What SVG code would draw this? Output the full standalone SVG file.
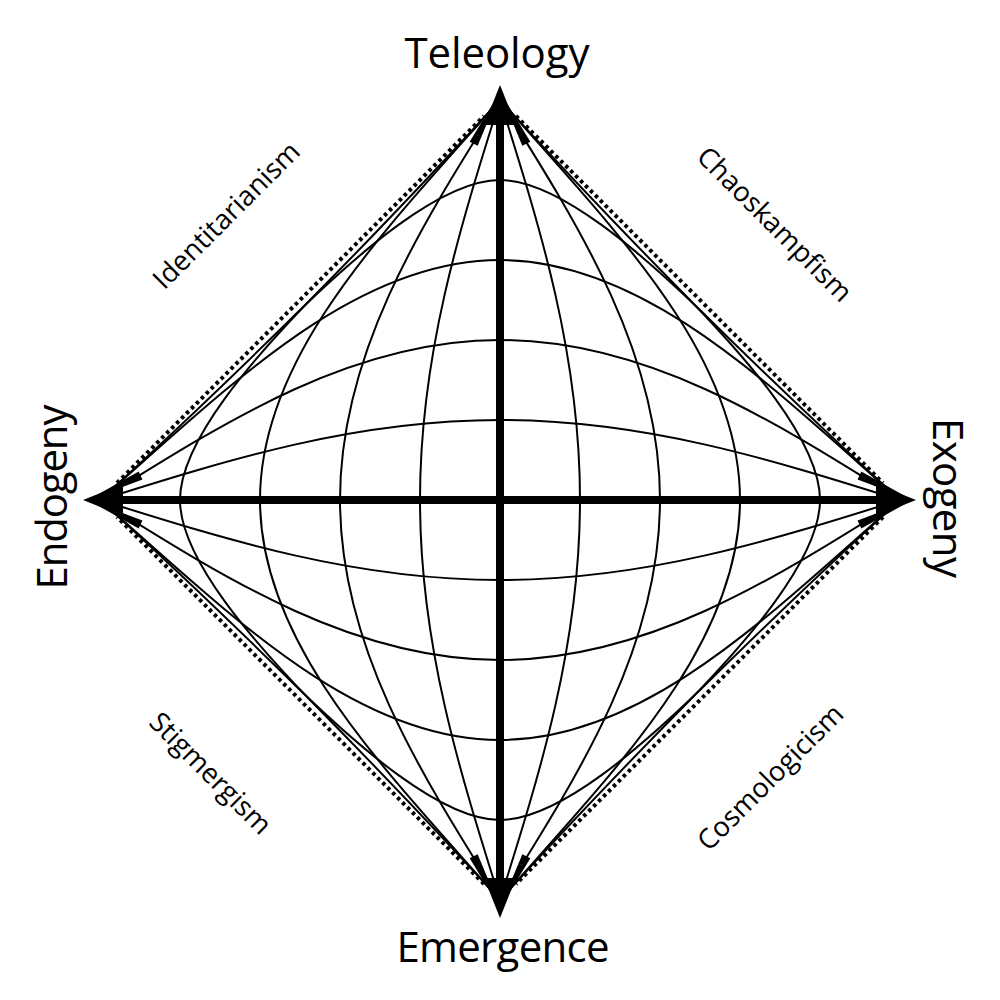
<svg xmlns="http://www.w3.org/2000/svg" width="1000" height="1000" viewBox="0 0 1000 1000">
<style>
.grid{fill:none;stroke:#000;stroke-width:2}
.dot{fill:none;stroke:#000;stroke-width:4;stroke-dasharray:3.5 3.5}
.axis{fill:none;stroke:#000;stroke-width:8}
.head{fill:#000}
.big{font-family:"Open Sans","Liberation Sans",sans-serif;font-size:42px;fill:#000}
.small{font-family:"Open Sans","Liberation Sans",sans-serif;font-size:27.5px;fill:#000}
</style>
<defs>
<path id="mk" d="M0,0 L-58,-4.5 L-58,4.5 Z" fill="#000"/>
</defs>
<rect width="1000" height="1000" fill="#fff"/>
<g id="connectors">
<g id="dotted-edges">
<line class="dot" x1="117" y1="483" x2="484" y2="116"/>
<line class="dot" x1="516" y1="116" x2="883" y2="483"/>
<line class="dot" x1="883" y1="517" x2="516" y2="884"/>
<line class="dot" x1="484" y1="884" x2="117" y2="517"/>
</g>
<g id="meridians">
<path class="grid" d="M500,100 C541,230.5 580,355.2 580,500 C580,644.8 541,769.5 500,900"/>
<path class="grid" d="M500,100 C582,230.5 660,355.2 660,500 C660,644.8 582,769.5 500,900"/>
<path class="grid" d="M500,100 C615,230.5 740,355.2 740,500 C740,644.8 615,769.5 500,900"/>
<path class="grid" d="M500,100 C560,166 625,234 690,300 C743,355 820,440 820,500 C820,560 743,645 690,700 C625,766 560,834 500,900"/>
<path class="grid" d="M500,100 C459,230.5 420,355.2 420,500 C420,644.8 459,769.5 500,900"/>
<path class="grid" d="M500,100 C418,230.5 340,355.2 340,500 C340,644.8 418,769.5 500,900"/>
<path class="grid" d="M500,100 C385,230.5 260,355.2 260,500 C260,644.8 385,769.5 500,900"/>
<path class="grid" d="M500,100 C440,166 375,234 310,300 C257,355 180,440 180,500 C180,560 257,645 310,700 C375,766 440,834 500,900"/>
</g>
<g id="parallels">
<path class="grid" d="M100,500 C230.5,459 355.2,420 500,420 C644.8,420 769.5,459 900,500"/>
<path class="grid" d="M100,500 C230.5,418 355.2,340 500,340 C644.8,340 769.5,418 900,500"/>
<path class="grid" d="M100,500 C230.5,385 355.2,260 500,260 C644.8,260 769.5,385 900,500"/>
<path class="grid" d="M100,500 C166,440 234,375 300,310 C355,257 440,180 500,180 C560,180 645,257 700,310 C766,375 834,440 900,500"/>
<path class="grid" d="M100,500 C230.5,541 355.2,580 500,580 C644.8,580 769.5,541 900,500"/>
<path class="grid" d="M100,500 C230.5,582 355.2,660 500,660 C644.8,660 769.5,582 900,500"/>
<path class="grid" d="M100,500 C230.5,615 355.2,740 500,740 C644.8,740 769.5,615 900,500"/>
<path class="grid" d="M100,500 C166,560 234,625 300,690 C355,743 440,820 500,820 C560,820 645,743 700,690 C766,625 834,560 900,500"/>
</g>
<g id="edge-arrowheads">
<use href="#mk" transform="translate(500,92) rotate(-63)"/>
<use href="#mk" transform="translate(500,92) rotate(-117)"/>
<use href="#mk" transform="translate(500,908) rotate(63)"/>
<use href="#mk" transform="translate(500,908) rotate(117)"/>
<use href="#mk" transform="translate(88,500) rotate(155)"/>
<use href="#mk" transform="translate(88,500) rotate(205)"/>
<use href="#mk" transform="translate(912,500) rotate(25)"/>
<use href="#mk" transform="translate(912,500) rotate(-25)"/>
</g>
<g id="axes">
<line class="axis" x1="500" y1="120" x2="500" y2="880"/>
<line class="axis" x1="120" y1="500" x2="880" y2="500"/>
<polygon class="head" points="500,85 516,125 484,125"/>
<polygon class="head" points="500,918 516,878 484,878"/>
<polygon class="head" points="83,500 123,484 123,516"/>
<polygon class="head" points="916,500 876,484 876,516"/>
</g>
</g>
<g id="node-teleology"><text class="big" x="497" y="68" text-anchor="middle" textLength="185">Teleology</text></g>
<g id="node-emergence"><text class="big" x="503" y="962" text-anchor="middle" textLength="213">Emergence</text></g>
<g id="node-endogeny"><text class="big" transform="translate(67,497) rotate(-90)" text-anchor="middle" textLength="185">Endogeny</text></g>
<g id="node-exogeny"><text class="big" transform="translate(933,498) rotate(90)" text-anchor="middle" textLength="160">Exogeny</text></g>
<g id="label-identitarianism"><text class="small" transform="translate(233,222) rotate(-45)" text-anchor="middle">Identitarianism</text></g>
<g id="label-chaoskampfism"><text class="small" transform="translate(768,231) rotate(45)" text-anchor="middle">Chaoskampfism</text></g>
<g id="label-stigmergism"><text class="small" transform="translate(204,780) rotate(45)" text-anchor="middle">Stigmergism</text></g>
<g id="label-cosmologicism"><text class="small" transform="translate(777,784) rotate(-45)" text-anchor="middle">Cosmologicism</text></g>
</svg>
